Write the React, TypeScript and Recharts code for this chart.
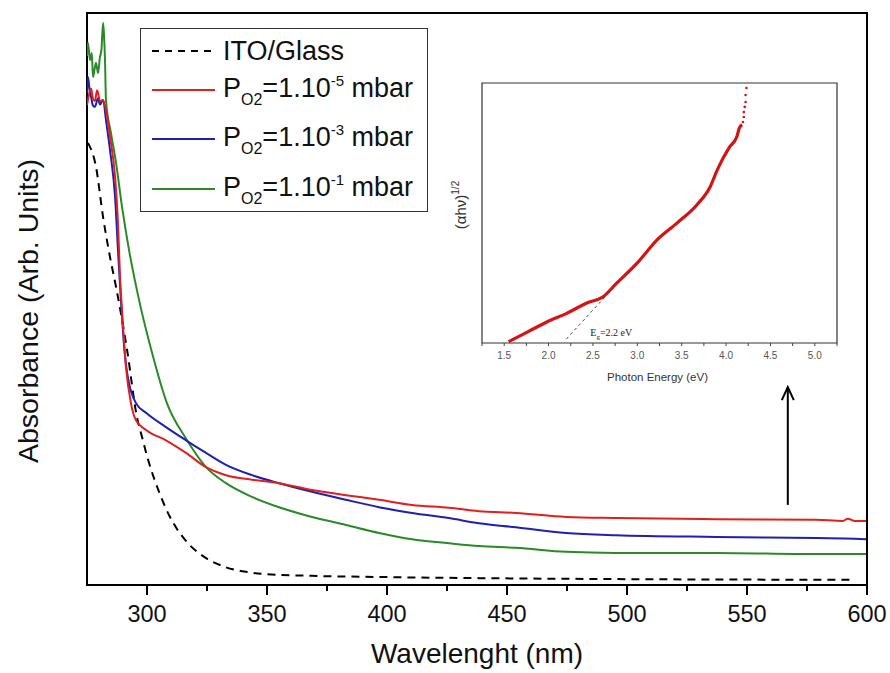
import * as React from 'react';
import {
  LineChart,
  Line,
  XAxis,
  YAxis,
  ReferenceArea,
  ReferenceLine,
  ReferenceDot,
  Legend,
} from 'recharts';

type Pt = { w: number; a: number };
type EPt = { e: number; v: number };

const FONT = '"Liberation Sans", Arial, sans-serif';
const RED = '#e01f1f';
const BLUE = '#1f1fb0';
const GREEN = '#2a8a2a';

const toPts = (rows: number[][]): Pt[] => rows.map(([w, a]) => ({ w, a }));
const toEPts = (rows: number[][]): EPt[] => rows.map(([e, v]) => ({ e, v }));

// wavelength (nm) vs absorbance (arb. units)
const itoGlass = toPts([
  [275.4, 77.3], [278.75, 73.1], [281.7, 64.3], [284.6, 57.3], [287.1, 52.1],
  [291.7, 41.1], [295.8, 29.4], [297.9, 25.9], [300.8, 21.4], [305, 16.3],
  [309.2, 12.2], [312.5, 9.8], [316.25, 7.7], [324.6, 4.7], [332.9, 3.1],
  [341.25, 2.3], [349.6, 1.9], [368.75, 1.6], [396.7, 1.4], [438.3, 1.2], [594, 0.9],
]);

const po2Minus5 = toPts([
  [275.0, 83.9], [276.0, 86.0], [276.7, 86.8], [277.5, 85.0], [278.3, 84.6],
  [279.2, 86.5], [279.6, 86.0], [280.4, 84.6], [281.7, 84.8], [282.9, 83.0],
  [284.6, 78.3], [286.7, 71.3], [287.9, 63.3], [288.75, 54.0], [289.6, 48.0],
  [291.25, 38.1], [293.3, 31.8], [295.4, 28.8], [299.6, 27.1], [307.9, 25.3],
  [316.25, 23.1], [324.6, 20.6], [332.9, 19.2], [343.75, 18.4], [355, 17.8],
  [368.75, 16.6], [382.9, 15.7], [396.7, 14.9], [410.4, 14.0], [425.8, 13.5],
  [438.3, 12.9], [453.75, 12.6], [474.6, 11.9], [495.4, 11.7], [537.1, 11.5],
  [578.75, 11.4], [590, 11.2], [592, 11.6], [595, 11.2], [599.6, 11.2],
]);

const po2Minus3 = toPts([
  [275.0, 86.0], [275.4, 88.8], [276.25, 86.0], [276.7, 85.3], [277.5, 83.8],
  [278.3, 83.6], [279.6, 85.1], [280.4, 84.0], [281.7, 84.8], [282.9, 81.3],
  [284.6, 76.0], [286.7, 67.8], [287.9, 58.6], [289.2, 49.3], [289.6, 46.9],
  [290.4, 42.0], [291.25, 38.5], [292.5, 35.3], [295.4, 31.8], [299.6, 30.1],
  [307.9, 27.6], [316.25, 25.3], [324.6, 23.1], [332.9, 21.0], [343.75, 19.2],
  [355, 17.8], [368.75, 16.3], [382.9, 14.9], [396.7, 13.6], [410.4, 12.6],
  [425.8, 11.7], [438.3, 10.8], [453.75, 10.1], [474.6, 9.1], [495.4, 8.7],
  [537.1, 8.4], [578.75, 8.2], [595, 8.1], [599.6, 8.0],
]);

const po2Minus1 = toPts([
  [275.0, 92.5], [275.4, 94.8], [276.25, 91.8], [277.0, 93.0], [277.5, 88.8],
  [278.3, 90.5], [278.75, 91.3], [279.6, 89.5], [280.4, 92.3], [281.0, 93.5],
  [281.7, 98.3], [282.1, 96.0], [282.5, 91.8], [282.9, 84.8], [285, 79.0],
  [287.1, 73.8], [289.6, 66.1], [292.5, 58.6], [296.7, 49.8], [302.1, 40.6],
  [308.3, 31.8], [316.25, 25.6], [324.6, 20.6], [332.9, 17.8], [343.75, 15.4],
  [355, 13.6], [368.75, 11.9], [382.9, 10.5], [396.7, 9.1], [410.4, 8.0],
  [425.8, 7.3], [438.3, 6.8], [453.75, 6.5], [474.6, 5.8], [495.4, 5.6],
  [537.1, 5.6], [578.75, 5.4], [599.6, 5.4],
]);

const wavelengthTicks = [300, 325, 350, 375, 400, 425, 450, 475, 500, 525, 550, 575, 600];

// inset: Tauc plot, photon energy (eV) vs (αhν)^1/2
const taucCurve = toEPts([
  [1.55, 0.05], [1.76, 0.42], [1.98, 0.81], [2.21, 1.15], [2.43, 1.54],
  [2.61, 1.77], [2.77, 2.31], [3.0, 3.08], [3.22, 3.96], [3.45, 4.62],
  [3.67, 5.31], [3.82, 6.0], [3.9, 6.65], [4.04, 7.54], [4.12, 7.92],
  [4.15, 8.27], [4.18, 8.4],
]);
const taucTail = toEPts([
  [4.19, 8.5], [4.2, 8.69], [4.2, 8.88], [4.21, 9.08], [4.22, 9.27], [4.22, 9.54], [4.23, 9.81],
]);
const tangentFit = toEPts([[2.2, 0.15], [2.75, 2.2]]);
const energyTicks = [1.25, 1.5, 1.75, 2.0, 2.25, 2.5, 2.75, 3.0, 3.25, 3.5, 3.75, 4.0, 4.25, 4.5, 4.75, 5.0, 5.25];

const legendRows = [
  { id: 'ito', color: '#000', dash: '7 6', exp: '', center: 22 },
  { id: 'm5', color: RED, dash: undefined, exp: '-5', center: 61 },
  { id: 'm3', color: BLUE, dash: undefined, exp: '-3', center: 110 },
  { id: 'm1', color: GREEN, dash: undefined, exp: '-1', center: 160 },
];

const WaveTick = (props: any) => {
  const { x, y, payload } = props;
  const major = payload.value % 50 === 0;
  return (
    <g>
      <line x1={x} y1={y} x2={x} y2={y + (major ? 10 : 6)} stroke="#000" strokeWidth={2} />
      {major && (
        <text x={x} y={y + 37} textAnchor="middle" fontSize={23.5} fill="#111" fontFamily={FONT}>
          {payload.value}
        </text>
      )}
    </g>
  );
};

const EnergyTick = (props: any) => {
  const { x, y, payload } = props;
  const v = payload.value;
  const major = Math.abs(v * 2 - Math.round(v * 2)) < 1e-6 && v > 1.3 && v < 5.1;
  return (
    <g>
      <line x1={x} y1={y} x2={x} y2={y + 3} stroke="#444" strokeWidth={1} />
      {major && (
        <text x={x} y={y + 16} textAnchor="middle" fontSize={10} fill="#555" fontFamily={FONT}>
          {v.toFixed(1)}
        </text>
      )}
    </g>
  );
};

const LegendBox = () => (
  <div
    style={{
      position: 'relative',
      width: 288,
      height: 184,
      border: '1.5px solid #333',
      boxSizing: 'border-box',
      background: '#fff',
      fontFamily: FONT,
      fontSize: 27,
      color: '#111',
    }}
  >
    {legendRows.map((r) => (
      <div
        key={r.id}
        style={{ position: 'absolute', left: 0, top: r.center - 16, height: 32, display: 'flex', alignItems: 'center' }}
      >
        <svg width={82} height={32} style={{ display: 'block' }}>
          <line x1={11} y1={16} x2={74} y2={16} stroke={r.color} strokeWidth={2} strokeDasharray={r.dash} />
        </svg>
        <span style={{ whiteSpace: 'nowrap', lineHeight: '32px' }}>
          {r.exp === '' ? (
            'ITO/Glass'
          ) : (
            <>
              P<span style={{ fontSize: 16, position: 'relative', top: 8 }}>O2</span>=1.10
              <span style={{ fontSize: 15, position: 'relative', top: -11 }}>{r.exp}</span> mbar
            </>
          )}
        </span>
      </div>
    ))}
  </div>
);

const ArrowHead = (props: any) => {
  const { cx, cy } = props;
  return <polyline points={`${cx - 6},${cy + 13} ${cx},${cy} ${cx + 6},${cy + 13}`} fill="none" stroke="#000" strokeWidth={2} />;
};

const EgLabel = (props: any) => {
  const { cx, cy } = props;
  return (
    <text x={cx} y={cy} fontSize={10} fill="#222" fontFamily='"Liberation Serif", "Times New Roman", serif'>
      E<tspan fontSize={7} dy={3}>g</tspan>
      <tspan dy={-3}>=2.2 eV</tspan>
    </text>
  );
};

function TaucInset() {
  return (
    <div style={{ position: 'absolute', left: 430, top: 70 }}>
      <LineChart width={420} height={330} margin={{ top: 13, right: 13, bottom: 0, left: 12 }}>
        <XAxis
          dataKey="e"
          type="number"
          domain={[1.25, 5.25]}
          ticks={energyTicks}
          interval={0}
          tickSize={0}
          tickMargin={0}
          axisLine={false}
          tick={<EnergyTick />}
          height={57}
          allowDataOverflow
          label={({ viewBox }: any) => (
            <text
              x={viewBox.x + viewBox.width / 2 - 2}
              y={viewBox.y + 38}
              textAnchor="middle"
              fontSize={11.5}
              fill="#333"
              fontFamily={FONT}
            >
              Photon Energy (eV)
            </text>
          )}
        />
        <YAxis
          dataKey="v"
          type="number"
          domain={[0, 10]}
          width={40}
          axisLine={false}
          tickLine={false}
          tick={false}
          allowDataOverflow
          label={({ viewBox }: any) => {
            const x = viewBox.x + viewBox.width - 16;
            const y = viewBox.y + viewBox.height / 2 - 8;
            return (
              <text x={x} y={y} transform={`rotate(-90, ${x}, ${y})`} textAnchor="middle" fontSize={15} fill="#333" fontFamily={FONT}>
                (αhν)<tspan fontSize={10} dy={-7}>1/2</tspan>
              </text>
            );
          }}
        />
        <Line
          data={tangentFit}
          dataKey="v"
          stroke="#222"
          strokeWidth={0.8}
          strokeDasharray="3 3"
          dot={false}
          isAnimationActive={false}
          type="linear"
        />
        <Line
          data={taucCurve}
          dataKey="v"
          stroke="#d41414"
          strokeWidth={3.2}
          dot={false}
          isAnimationActive={false}
          type="monotone"
        />
        <Line
          data={taucTail}
          dataKey="v"
          stroke="none"
          dot={{ r: 1.3, fill: '#d41414', stroke: 'none' }}
          isAnimationActive={false}
          type="linear"
        />
        <ReferenceDot x={2.47} y={0.28} shape={<EgLabel />} />
        <ReferenceArea x1={1.25} x2={5.25} y1={0} y2={10} fill="none" stroke="#333" strokeWidth={1.2} />
      </LineChart>
    </div>
  );
}

export default function App() {
  return (
    <div style={{ position: 'absolute', left: 0, top: 0, width: 890, height: 673, background: '#fff' }}>
      <LineChart width={890} height={673} margin={{ top: 13, right: 23, bottom: 0, left: 7 }}>
        <XAxis
          dataKey="w"
          type="number"
          domain={[275, 600]}
          ticks={wavelengthTicks}
          interval={0}
          tickSize={0}
          tickMargin={0}
          axisLine={false}
          tick={<WaveTick />}
          height={88}
          allowDataOverflow
          label={({ viewBox }: any) => (
            <text
              x={viewBox.x + viewBox.width / 2}
              y={viewBox.y + 78}
              textAnchor="middle"
              fontSize={28}
              fill="#111"
              fontFamily={FONT}
            >
              Wavelenght (nm)
            </text>
          )}
        />
        <YAxis
          dataKey="a"
          type="number"
          domain={[0, 100]}
          width={80}
          axisLine={false}
          tickLine={false}
          tick={false}
          allowDataOverflow
          label={({ viewBox }: any) => {
            const x = viewBox.x + viewBox.width - 49;
            const y = viewBox.y + viewBox.height / 2 + 12;
            return (
              <text x={x} y={y} transform={`rotate(-90, ${x}, ${y})`} textAnchor="middle" fontSize={28.5} fill="#111" fontFamily={FONT}>
                Absorbance (Arb. Units)
              </text>
            );
          }}
        />
        <Legend
          layout="vertical"
          align="center"
          verticalAlign="middle"
          content={() => <LegendBox />}
          wrapperStyle={{ left: 140, top: 28, width: 288, height: 184 }}
        />
        <Line data={itoGlass} dataKey="a" stroke="#000" strokeWidth={2} strokeDasharray="8 6" dot={false} isAnimationActive={false} type="monotone" />
        <Line data={po2Minus1} dataKey="a" stroke={GREEN} strokeWidth={2} dot={false} isAnimationActive={false} type="monotone" />
        <Line data={po2Minus3} dataKey="a" stroke={BLUE} strokeWidth={2} dot={false} isAnimationActive={false} type="monotone" />
        <Line data={po2Minus5} dataKey="a" stroke={RED} strokeWidth={2} dot={false} isAnimationActive={false} type="monotone" />
        <ReferenceLine segment={[{ x: 567, y: 14 }, { x: 567, y: 34.6 }]} stroke="#000" strokeWidth={2} />
        <ReferenceDot x={567} y={34.6} shape={<ArrowHead />} />
        <ReferenceArea x1={275} x2={600} y1={0} y2={100} fill="none" stroke="#000" strokeWidth={2} />
      </LineChart>
      <TaucInset />
    </div>
  );
}
